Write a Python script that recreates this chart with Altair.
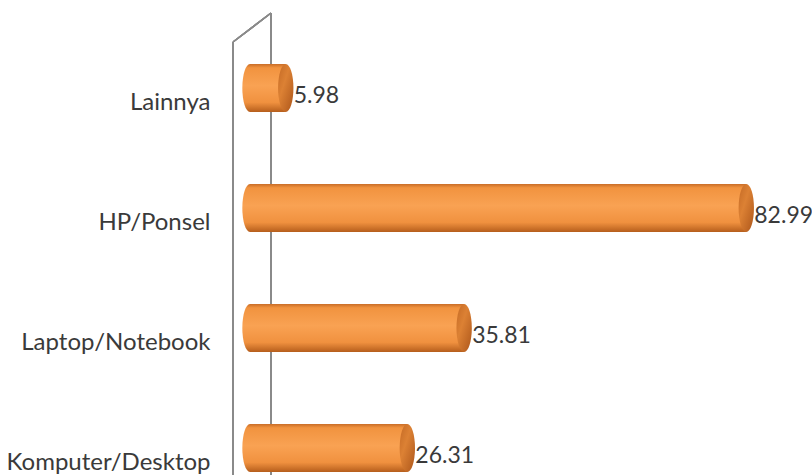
import altair as alt
import pandas as pd

categories = ["Lainnya", "HP/Ponsel", "Laptop/Notebook", "Komputer/Desktop"]
values = [5.98, 82.99, 35.81, 26.31]
labels = ["5.98", "82.99", "35.81", "26.31"]

df = pd.DataFrame({"cat": categories, "val": values, "lab": labels, "zero": [0] * len(values)})

FONT = "Lato"
BAR_H = 48
ELLIPSE = "M -0.32,0 A 0.32,1 0 1,0 0.32,0 A 0.32,1 0 1,0 -0.32,0 Z"

x_scale = alt.Scale(domain=[-4.682, 93.98], range=[0, 590], nice=False, zero=False)
y_scale = alt.Scale(domain=categories, range=[28, 508], paddingInner=0, paddingOuter=0)

body_grad = alt.Gradient(
    gradient="linear",
    stops=[
        alt.GradientStop(color="#c96d27", offset=0),
        alt.GradientStop(color="#f1933f", offset=0.08),
        alt.GradientStop(color="#f9a253", offset=0.45),
        alt.GradientStop(color="#f0913f", offset=0.8),
        alt.GradientStop(color="#b65e1c", offset=1),
    ],
    x1=0, x2=0, y1=0, y2=1,
)
cap_grad = alt.Gradient(
    gradient="linear",
    stops=[
        alt.GradientStop(color="#c46a25", offset=0),
        alt.GradientStop(color="#dc8134", offset=0.4),
        alt.GradientStop(color="#ad561a", offset=1),
    ],
    x1=0, x2=1, y1=0, y2=1,
)

base = alt.Chart(df)

wall_left = base.mark_rule(color="#8a8a8a", strokeWidth=1.5).encode(
    x=alt.value(11), y=alt.value(42), y2=alt.value(475)
)
wall_right = base.mark_rule(color="#8a8a8a", strokeWidth=1.5).encode(
    x=alt.value(49), y=alt.value(13), y2=alt.value(475)
)
wall_top = base.mark_rule(color="#8a8a8a", strokeWidth=1.5).encode(
    x=alt.value(11), x2=alt.value(49), y=alt.value(42), y2=alt.value(13)
)

left_cap = base.mark_point(shape=ELLIPSE, filled=True, fill=body_grad, opacity=1, size=BAR_H * BAR_H).encode(
    x=alt.X("zero:Q", scale=x_scale, axis=None),
    y=alt.Y("cat:N", scale=y_scale, sort=categories,
            axis=alt.Axis(title=None, domain=False, ticks=False, labelPadding=12, labelOffset=15,
                          labelFont=FONT, labelFontSize=24, labelColor="#3a3a3a", labelLimit=400)),
)

bars = base.mark_bar(fill=body_grad, height=BAR_H).encode(
    x=alt.X("zero:Q", scale=x_scale),
    x2="val:Q",
    y=alt.Y("cat:N", scale=y_scale, sort=categories),
)

end_cap = base.mark_point(shape=ELLIPSE, filled=True, fill=cap_grad, opacity=1, size=BAR_H * BAR_H).encode(
    x=alt.X("val:Q", scale=x_scale),
    y=alt.Y("cat:N", scale=y_scale, sort=categories),
)

text = base.mark_text(align="left", baseline="middle", dx=8, dy=8, font=FONT, fontSize=23, color="#3a3a3a").encode(
    x=alt.X("val:Q", scale=x_scale),
    y=alt.Y("cat:N", scale=y_scale, sort=categories),
    text="lab:N",
)

chart = alt.layer(wall_left, wall_right, wall_top, left_cap, bars, end_cap, text).properties(
    width=590, height=475,
    padding={"left": 222, "top": 0, "right": 0, "bottom": 0},
    autosize=alt.AutoSizeParams(type="none"),
    background="white",
).configure_view(stroke=None)

chart.save("out.html", embed_options={"renderer": "svg", "actions": False})
